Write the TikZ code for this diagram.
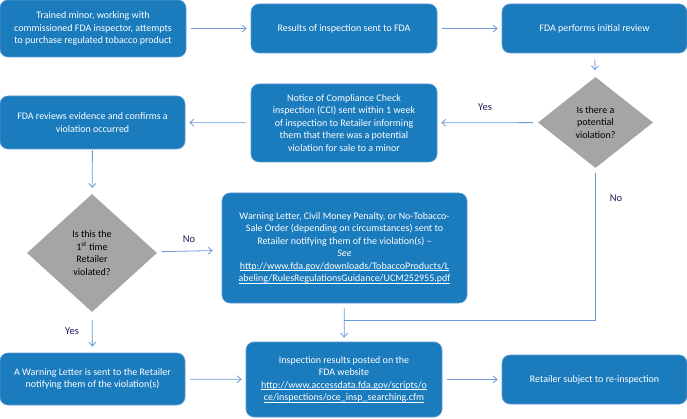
\documentclass[tikz,border=0pt]{standalone}
\usepackage{fontspec}
\setmainfont{Carlito}
\usepackage{tikz}
\usetikzlibrary{arrows.meta, shapes.geometric}

\definecolor{boxblue}{HTML}{1A7BBD}
\definecolor{edgeblue}{HTML}{5B9BD5}
\definecolor{arrowblue}{HTML}{6A9AD6}
\definecolor{decgray}{HTML}{A5A5A5}
\definecolor{labelnavy}{HTML}{1F1F5E}
\newcommand\weblink[1]{\underline{\smash{#1}}}

\begin{document}
\begin{tikzpicture}[
      x=1pt, y=-1pt,
      every node/.style={font=\fontsize{10}{12.5}\selectfont},
      stepbox/.style={
        rectangle, rounded corners=8pt, fill=boxblue, draw=edgeblue,
        line width=0.6pt, text=white, align=center, inner sep=2pt
      },
      decision/.style={
        diamond, fill=decgray, align=center, inner sep=0pt
      },
      flow/.style={
        draw=arrowblue, line width=0.8pt,
        -{Straight Barb[length=4pt,width=7pt]},
        shorten <=5pt, shorten >=4pt
      },
      answer/.style={text=labelnavy, font=\fontsize{10.5}{12.5}\selectfont}
    ]
      \useasboundingbox (0,0) rectangle (687,419);

      % top row
      \node[stepbox, minimum width=186pt, minimum height=57pt] (minor) at (93,28.5)
        {Trained minor, working with\\commissioned FDA inspector, attempts\\to purchase regulated tobacco product};
      \node[stepbox, minimum width=186pt, minimum height=49pt] (results) at (344,28.5)
        {Results of inspection sent to FDA};
      \node[stepbox, minimum width=185pt, minimum height=49pt] (review) at (594.5,28.5)
        {FDA performs initial review};

      % second row
      \node[decision, minimum width=115pt, minimum height=91pt] (potential) at (595.5,122.5)
        {Is there a\\potential\\violation?};
      \node[stepbox, minimum width=186pt, minimum height=78pt] (notice) at (344,123)
        {Notice of Compliance Check\\inspection (CCI) sent within 1 week\\of inspection to Retailer informing\\them that there was a potential\\violation for sale to a minor};
      \node[stepbox, minimum width=185pt, minimum height=53pt] (confirm) at (92.5,122.5)
        {FDA reviews evidence and confirms a\\violation occurred};

      % third row
      \node[decision, minimum width=130pt, minimum height=118pt] (first) at (92,253)
        {Is this the\\1\textsuperscript{st} time\\Retailer\\violated?};
      \node[stepbox, minimum width=245pt, minimum height=110pt] (penalty) at (344.5,248)
        {Warning Letter, Civil Money Penalty, or No-Tobacco-\\Sale Order (depending on circumstances) sent to\\Retailer notifying them of the violation(s) --\\\textit{See}\\\weblink{http://www.fda.gov/downloads/TobaccoProducts/L}\\\weblink{abeling/RulesRegulationsGuidance/UCM252955.pdf}};

      % bottom row
      \node[stepbox, minimum width=185pt, minimum height=52pt] (letter) at (92.5,379)
        {A Warning Letter is sent to the Retailer\\notifying them of the violation(s)};
      \node[stepbox, minimum width=196pt, minimum height=75pt] (posted) at (344,379.5)
        {Inspection results posted on the\\FDA website\\\weblink{http://www.accessdata.fda.gov/scripts/o}\\\weblink{ce/inspections/oce\_insp\_searching.cfm}};
      \node[stepbox, minimum width=185pt, minimum height=49pt] (reinspect) at (594.5,379.5)
        {Retailer subject to re-inspection};

      \coordinate (merge) at (344,320);

      % answers
      \node[answer] (yesa) at (485,107) {Yes};
      \node[answer] (noa) at (616,198) {No};
      \node[answer] (nob) at (189,239) {No};
      \node[answer] (yesb) at (72,331) {Yes};

      % connectors
      \draw[flow] (minor) -- (results);
      \draw[flow] (results) -- (review);
      \draw[flow, shorten <=7pt, shorten >=7pt] (review) -- (potential);
      \draw[flow] (potential) -- (notice);
      \draw[flow] (notice) -- (confirm);
      \draw[flow, shorten <=1pt, shorten >=6pt] (confirm) -- (first);
      \draw[flow, shorten <=6pt, shorten >=9pt] (first) -- (penalty);
      \draw[flow, shorten <=8pt, shorten >=6pt] (first) -- (letter);
      \draw[flow] (letter) -- (posted);
      \draw[flow] (posted) -- (reinspect);
      \draw[flow] (penalty) -- (posted);
      \draw[draw=arrowblue, line width=0.8pt, shorten <=5pt] (potential.south) |- (merge);
    \end{tikzpicture}
\end{document}
